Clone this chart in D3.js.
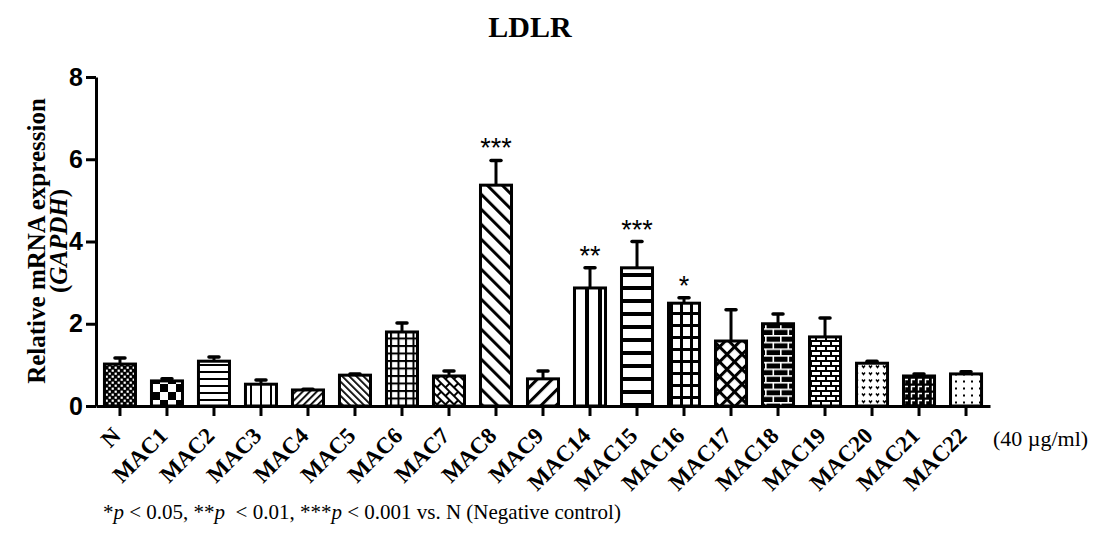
<!DOCTYPE html>
<html><head><meta charset="utf-8">
<script src="https://cdn.jsdelivr.net/npm/d3@7"></script>
<style>body{margin:0;background:#fff}</style>
</head><body>
<svg id="chart" width="1094" height="533"></svg>
<script>
const categories = ["N","MAC1","MAC2","MAC3","MAC4","MAC5","MAC6","MAC7","MAC8","MAC9","MAC14","MAC15","MAC16","MAC17","MAC18","MAC19","MAC20","MAC21","MAC22"];
const means = [1.02,0.61,1.09,0.53,0.39,0.75,1.80,0.73,5.37,0.66,2.87,3.36,2.50,1.58,2.00,1.68,1.04,0.73,0.78];
const sems  = [0.15,0.05,0.10,0.10,0.02,0.03,0.22,0.12,0.60,0.19,0.49,0.64,0.13,0.76,0.24,0.46,0.05,0.05,0.05];
const significance = ["","","","","","","","","***","","**","***","*","","","","","",""];
const yTicks = [0,2,4,6,8];
const patternIds = ["fineChecker","bigChecker","hThin","vThin","upThin","downThin","gridThin","diagBrick","downWide","upWide","vThick","hThick","gridThick","crossHatch","blackBrick","whiteBrick","vMarks","gammaMarks","dots"];

const svg = d3.select("#chart");
const serif = "'Liberation Serif','Times New Roman',serif";
const sans = "'Liberation Sans',Arial,sans-serif";
const defs = svg.append("defs");

function pat(id, w, h, bg, transform) {
  const p = defs.append("pattern").attr("id", id).attr("patternUnits", "userSpaceOnUse")
    .attr("width", w).attr("height", h);
  if (transform) p.attr("patternTransform", transform);
  p.append("rect").attr("width", w).attr("height", h).attr("fill", bg);
  return p;
}
function rects(p, list, fill) {
  list.forEach(r => p.append("rect").attr("x", r[0]).attr("y", r[1]).attr("width", r[2]).attr("height", r[3]).attr("fill", fill));
}
let p;
p = pat("fineChecker", 6, 6, "#000"); rects(p, [[0.6,0.6,2.2,2.2],[3.6,3.6,2.2,2.2]], "#fff");
p = pat("bigChecker", 16, 16, "#fff"); rects(p, [[0,0,8,8],[8,8,8,8]], "#000");
p = pat("hThin", 7, 7, "#fff"); rects(p, [[0,0,7,2]], "#000");
p = pat("vThin", 10, 10, "#fff"); rects(p, [[0,0,2,10]], "#000");
p = pat("upThin", 5, 5, "#fff", "rotate(45)"); rects(p, [[0,0,1.8,5]], "#000");
p = pat("downThin", 5, 5, "#fff", "rotate(-45)"); rects(p, [[0,0,1.8,5]], "#000");
p = pat("gridThin", 7.5, 7.5, "#fff"); rects(p, [[0,0,7.5,2],[0,0,2,7.5]], "#000");
p = pat("diagBrick", 12, 12, "#fff", "rotate(45)"); rects(p, [[0,0,12,2],[0,6,12,2],[0,0,2,6],[6,6,2,6]], "#000");
p = pat("downWide", 10.6, 10.6, "#fff", "rotate(-45)"); rects(p, [[0,0,3,10.6]], "#000");
p = pat("upWide", 10.6, 10.6, "#fff", "rotate(45)"); rects(p, [[0,0,3,10.6]], "#000");
p = pat("vThick", 13, 13, "#fff"); rects(p, [[0,0,4,13]], "#000");
p = pat("hThick", 13, 13, "#fff"); rects(p, [[0,0,13,4]], "#000");
p = pat("gridThick", 10, 12, "#fff"); rects(p, [[0,0,10,3],[0,0,3,12]], "#000");
p = pat("crossHatch", 10.6, 10.6, "#fff", "rotate(45)"); rects(p, [[0,0,3,10.6],[0,0,10.6,3]], "#000");
p = pat("blackBrick", 15, 13.4, "#000"); rects(p, [[0,0,15,1.6],[0,6.7,15,1.6],[0,0,1.6,6.7],[7.5,6.7,1.6,6.7]], "#fff");
p = pat("whiteBrick", 10, 10, "#fff"); rects(p, [[0,0,10,2],[0,5,10,2],[0,0,2,5],[5,5,2,5]], "#000");
p = pat("vMarks", 7, 7, "#fff");
p.append("path").attr("d", "M1,1.5 L2.5,3.5 L4,1.5").attr("fill", "none").attr("stroke", "#000").attr("stroke-width", 1.4);
p = pat("gammaMarks", 7, 7, "#000");
p.append("path").attr("d", "M1.5,5.5 L1.5,1.5 L5,1.5").attr("fill", "none").attr("stroke", "#fff").attr("stroke-width", 1.4);
p = pat("dots", 8, 7, "#fff"); rects(p, [[3,2.5,2,2]], "#000");

const x = d3.scaleBand().domain(categories).range([96, 990]).paddingInner(0.34).paddingOuter(0.18);
const y = d3.scaleLinear().domain([0, 8]).range([406, 77]);

const data = categories.map((c, i) => ({c, m: means[i], s: sems[i], sig: significance[i], pid: patternIds[i]}));

// bars
svg.append("g").selectAll("rect").data(data).join("rect")
  .attr("x", d => x(d.c)).attr("y", d => y(d.m))
  .attr("width", x.bandwidth()).attr("height", d => y(0) - y(d.m))
  .attr("fill", d => `url(#${d.pid})`).attr("stroke", "#000").attr("stroke-width", 3);

// error bars
const eb = svg.append("g").attr("stroke", "#000");
eb.selectAll("line.v").data(data).join("line").attr("class", "v")
  .attr("x1", d => x(d.c) + x.bandwidth()/2).attr("x2", d => x(d.c) + x.bandwidth()/2)
  .attr("y1", d => y(d.m)).attr("y2", d => y(d.m + d.s)).attr("stroke-width", 3);
eb.selectAll("line.cap").data(data).join("line").attr("class", "cap")
  .attr("x1", d => x(d.c) + x.bandwidth()/2 - 5).attr("x2", d => x(d.c) + x.bandwidth()/2 + 5)
  .attr("y1", d => y(d.m + d.s)).attr("y2", d => y(d.m + d.s)).attr("stroke-width", 3.5)
  .attr("stroke-linecap", "round");

// significance
svg.append("g").selectAll("text").data(data.filter(d => d.sig)).join("text")
  .attr("x", d => x(d.c) + x.bandwidth()/2).attr("y", d => y(d.m + d.s) - 3)
  .attr("text-anchor", "middle").attr("font-family", sans).attr("font-size", 27)
  .text(d => d.sig);

// y axis
const yAxis = svg.append("g").attr("transform", "translate(96,0)")
  .call(d3.axisLeft(y).tickValues(yTicks).tickFormat(d3.format("d")).tickSize(10).tickSizeOuter(0).tickPadding(3));
yAxis.select(".domain").attr("stroke-width", 3);
yAxis.selectAll(".tick line").attr("stroke-width", 3);
yAxis.selectAll(".tick text").attr("font-family", sans).attr("font-weight", "bold").attr("font-size", 25).attr("fill", "#000");

// x axis
const xAxis = svg.append("g").attr("transform", "translate(0,406)")
  .call(d3.axisBottom(x).tickSize(10).tickSizeOuter(0).tickFormat(""));
xAxis.select(".domain").attr("stroke-width", 3);
xAxis.selectAll(".tick line").attr("stroke-width", 3);

svg.append("g").selectAll("text").data(categories).join("text")
  .attr("transform", d => `translate(${x(d) + x.bandwidth()/2 + 2},437) rotate(-45)`)
  .attr("text-anchor", "end").attr("font-family", serif).attr("font-weight", "bold").attr("font-size", 23)
  .text(d => d);

// title
svg.append("text").attr("x", 530).attr("y", 37).attr("text-anchor", "middle")
  .attr("font-family", serif).attr("font-weight", "bold").attr("font-size", 30).text("LDLR");

// y title
const yt = svg.append("text").attr("transform", "translate(0,241) rotate(-90)")
  .attr("text-anchor", "middle").attr("font-family", serif).attr("font-weight", "bold").attr("font-size", 25);
yt.append("tspan").attr("x", 0).attr("y", 45).text("Relative mRNA expression");
const t2 = yt.append("tspan").attr("x", 0).attr("y", 67);
t2.append("tspan").text("(");
t2.append("tspan").attr("font-style", "italic").text("GAPDH");
t2.append("tspan").text(")");

// unit
svg.append("text").attr("x", 993).attr("y", 446).attr("font-family", serif).attr("font-size", 22).text("(40 \u00b5g/ml)");

// footnote
const fn = svg.append("text").attr("x", 103).attr("y", 519).attr("font-family", serif).attr("font-size", 21)
  .style("white-space", "pre");
[["*",""],["p","i"],[" < 0.05, **",""],["p","i"],["  < 0.01, ***",""],["p","i"],[" < 0.001 vs. N (Negative control)",""]]
  .forEach(s => { const t = fn.append("tspan").text(s[0]); if (s[1]) t.attr("font-style","italic"); });
</script>
</body></html>
